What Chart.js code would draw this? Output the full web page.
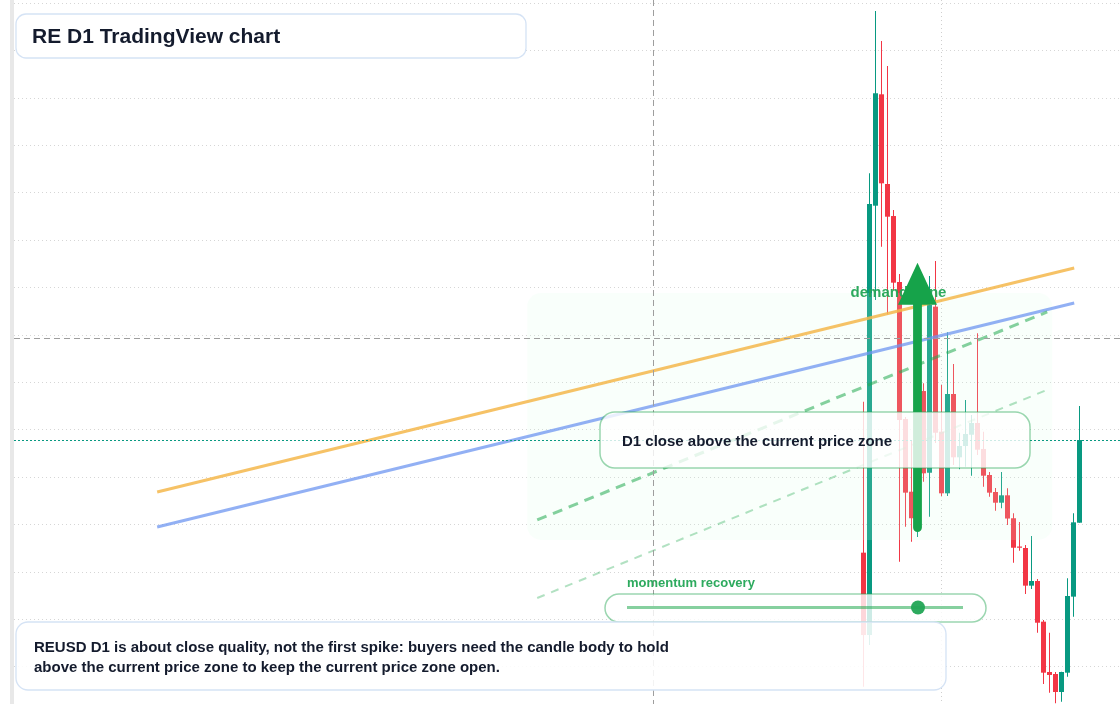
<!DOCTYPE html>
<html>
<head>
<meta charset="utf-8">
<script src="https://cdn.jsdelivr.net/npm/chart.js@4/dist/chart.umd.min.js"></script>
<style>
html,body{margin:0;padding:0;background:#fff;}
#wrap{position:relative;width:1120px;height:704px;}
</style>
</head>
<body>
<div id="wrap"><canvas id="c" width="1120" height="704"></canvas></div>
<script>
// ---- data (REUSD D1 candles) ----
const candleIndex = [0,1,2,3,4,5,6,7,8,9,10,11,12,13,14,15,16,17,18,19,20,21,22,23,24,25,26,27,28,29,30,31,32,33,34,35,36];
const opens  = [7.705,6.836,11.365,12.540,11.594,11.256,10.560,9.115,8.348,8.068,9.410,8.549,10.300,8.981,8.331,9.379,8.711,8.830,8.949,9.073,8.799,8.524,8.345,8.232,8.310,8.068,7.770,7.754,7.357,7.406,6.977,6.446,6.425,6.235,6.439,7.241,8.021];
const highs  = [9.297,11.707,13.419,13.102,12.839,11.320,10.645,9.136,8.893,9.526,9.492,10.623,10.782,9.474,10.030,9.695,8.970,9.315,9.157,10.019,8.981,8.556,8.387,8.556,8.384,8.120,8.028,7.786,7.881,7.427,6.995,6.861,6.446,6.449,7.435,8.120,9.252];
const lows   = [6.291,6.731,10.370,10.932,10.219,10.476,7.610,7.979,7.821,7.870,8.454,8.084,8.862,8.303,8.303,8.630,8.584,8.612,8.517,8.735,8.401,8.295,8.148,8.173,7.997,7.599,7.726,7.269,7.322,6.861,6.320,6.228,6.116,6.133,6.397,7.030,8.021];
const closes = [6.836,11.383,12.551,11.601,11.249,10.553,9.104,8.338,8.068,9.410,8.542,10.318,8.970,8.331,9.379,8.711,8.830,8.957,9.073,8.791,8.517,8.338,8.232,8.310,8.065,7.757,7.757,7.357,7.406,6.966,6.439,6.415,6.235,6.446,7.248,8.025,8.893];

// trend lines (x in bar index, y in price)
const trendX        = [-117.72, 35.12];
const upperTrend    = [8.345, 10.708];
const lowerTrend    = [7.976, 10.339];
const channelX      = [-54.38, 30.62];
const channelTop    = [8.050, 10.244];
const channelX2     = [-54.38, 30.95];
const channelBottom = [7.227, 9.431];

// zone / markers
const zoneX = [-56.05, 31.45];
const zoneY = [7.839, 10.444];
const arrowX = 9;
const arrowY = [7.923, 10.764];
const currentPrice = closes[closes.length - 1];
const crossX = -35.05;
const crossY = 9.969;

// axes
const xRange = [-141.5833, 42.75];
const yRange = [6.10865, 13.53481];
const yGrid = [6.5,7,7.5,8,8.5,9,9.5,10,10.5,11,11.5,12,12.5,13,13.5];
const xGrid = [13];

// texts
const titleText = "RE D1 TradingView chart";
const noteLines = ["REUSD D1 is about close quality, not the first spike: buyers need the candle body to hold",
                   "above the current price zone to keep the current price zone open."];
const calloutText = "D1 close above the current price zone";
const zoneLabel = "demand zone";
const momentumLabel = "momentum recovery";

// ---- styles ----
const UP = '#089981', DOWN = '#f23645';
const FONT = '"Liberation Sans", Arial, Helvetica, sans-serif';
const candleColors = candleIndex.map(i => closes[i] >= opens[i] ? UP : DOWN);

function rr(ctx, x, y, w, h, r) {
  ctx.beginPath();
  ctx.moveTo(x + r, y);
  ctx.lineTo(x + w - r, y);
  ctx.arcTo(x + w, y, x + w, y + r, r);
  ctx.lineTo(x + w, y + h - r);
  ctx.arcTo(x + w, y + h, x + w - r, y + h, r);
  ctx.lineTo(x + r, y + h);
  ctx.arcTo(x, y + h, x, y + h - r, r);
  ctx.lineTo(x, y + r);
  ctx.arcTo(x, y, x + r, y, r);
  ctx.closePath();
}

const overlay = {
  id: 'overlay',
  beforeDraw(chart) {
    const ctx = chart.ctx;
    ctx.save();
    ctx.fillStyle = '#ffffff';
    ctx.fillRect(0, 0, chart.width, chart.height);
    ctx.fillStyle = '#e8e8e8';
    ctx.fillRect(10, 0, 4, chart.height);
    ctx.restore();
  },
  afterDatasetDraw(chart, args) {
    if (args.index !== 1) return; // after candle bodies
    const ctx = chart.ctx, xs = chart.scales.x, ys = chart.scales.y;
    const x0 = xs.getPixelForValue(zoneX[0]), x1 = xs.getPixelForValue(zoneX[1]);
    const y0 = ys.getPixelForValue(zoneY[1]), y1 = ys.getPixelForValue(zoneY[0]);
    ctx.save();
    rr(ctx, x0, y0, x1 - x0, y1 - y0, 14);
    ctx.fillStyle = 'rgba(220,252,231,0.16)';
    ctx.fill();
    ctx.restore();
  },
  afterDatasetsDraw(chart) {
    const ctx = chart.ctx, xs = chart.scales.x, ys = chart.scales.y, a = chart.chartArea;
    ctx.save();
    // crosshair
    ctx.strokeStyle = '#9e9e9e'; ctx.lineWidth = 1; ctx.setLineDash([6, 4]);
    const cx = Math.round(xs.getPixelForValue(crossX)) + 0.5;
    ctx.beginPath(); ctx.moveTo(cx, a.top); ctx.lineTo(cx, a.bottom); ctx.stroke();
    const cy = Math.round(ys.getPixelForValue(crossY)) + 0.5;
    ctx.beginPath(); ctx.moveTo(a.left, cy); ctx.lineTo(a.right, cy); ctx.stroke();
    // current price line
    ctx.strokeStyle = UP; ctx.setLineDash([2, 2]);
    const py = Math.round(ys.getPixelForValue(currentPrice)) + 0.5;
    ctx.beginPath(); ctx.moveTo(a.left, py); ctx.lineTo(a.right, py); ctx.stroke();
    ctx.setLineDash([]);

    // zone label
    const ax = xs.getPixelForValue(arrowX);
    ctx.font = 'bold 15px ' + FONT;
    ctx.fillStyle = 'rgba(34,165,85,0.95)';
    ctx.textAlign = 'center'; ctx.textBaseline = 'middle';
    ctx.fillText(zoneLabel, ax - 19, ys.getPixelForValue(zoneY[1]));

    // arrow
    const aTop = ys.getPixelForValue(arrowY[1]), aBot = ys.getPixelForValue(arrowY[0]);
    const headH = 42, headW = 19.5, shaftW = 4.4;
    ctx.fillStyle = '#16a34a';
    ctx.beginPath();
    ctx.moveTo(ax, aTop);
    ctx.lineTo(ax + headW, aTop + headH);
    ctx.lineTo(ax + shaftW, aTop + headH);
    ctx.lineTo(ax + shaftW, aBot - shaftW);
    ctx.arc(ax, aBot - shaftW, shaftW, 0, Math.PI);
    ctx.lineTo(ax - shaftW, aTop + headH);
    ctx.lineTo(ax - headW, aTop + headH);
    ctx.closePath();
    ctx.fill();

    // callout box
    rr(ctx, 600, 412, 430, 56, 15);
    ctx.fillStyle = 'rgba(255,255,255,0.8)'; ctx.fill();
    ctx.strokeStyle = 'rgba(34,165,80,0.45)'; ctx.lineWidth = 1.5; ctx.stroke();
    ctx.font = 'bold 15px ' + FONT; ctx.fillStyle = '#141b2d';
    ctx.textAlign = 'left'; ctx.textBaseline = 'middle';
    ctx.fillText(calloutText, 622, 441.5);

    // momentum slider
    rr(ctx, 605, 594, 381, 28, 14);
    ctx.fillStyle = 'rgba(255,255,255,0.8)'; ctx.fill();
    ctx.strokeStyle = 'rgba(34,165,80,0.45)'; ctx.lineWidth = 1.5; ctx.stroke();
    ctx.strokeStyle = 'rgba(34,170,80,0.55)'; ctx.lineWidth = 3;
    ctx.beginPath(); ctx.moveTo(627, 607.5); ctx.lineTo(963, 607.5); ctx.stroke();
    ctx.fillStyle = 'rgba(34,165,85,0.95)';
    ctx.beginPath(); ctx.arc(ax + 0.5, 607.5, 7, 0, Math.PI * 2); ctx.fill();
    ctx.font = 'bold 13px ' + FONT;
    ctx.fillText(momentumLabel, 627, 583);

    // note box
    rr(ctx, 16, 622, 930, 68, 12);
    ctx.fillStyle = 'rgba(255,255,255,0.88)'; ctx.fill();
    ctx.strokeStyle = '#d5e3f5'; ctx.lineWidth = 1.3; ctx.stroke();
    ctx.font = 'bold 15px ' + FONT; ctx.fillStyle = '#141b2d';
    ctx.fillText(noteLines[0], 34, 648);
    ctx.fillText(noteLines[1], 34, 668);

    // title box
    rr(ctx, 16, 14, 510, 44, 10);
    ctx.fillStyle = '#ffffff'; ctx.fill();
    ctx.strokeStyle = '#d5e3f5'; ctx.lineWidth = 1.3; ctx.stroke();
    ctx.font = 'bold 21px ' + FONT; ctx.fillStyle = '#141b2d';
    ctx.fillText(titleText, 32, 37);
    ctx.restore();
  }
};

const lineDs = (xArr, yArr, color, width, dash, order) => ({
  type: 'line',
  data: xArr.map((x, i) => ({x: x, y: yArr[i]})),
  borderColor: color, borderWidth: width, borderDash: dash,
  pointRadius: 0, fill: false, tension: 0, order: order, borderCapStyle: 'butt'
});

new Chart(document.getElementById('c'), {
  type: 'bar',
  data: {
    datasets: [
      {
        label: 'wicks',
        data: candleIndex.map(i => ({x: i, y: [lows[i], highs[i]]})),
        backgroundColor: candleColors, barThickness: 1, borderWidth: 0,
        grouped: false, order: 5, borderSkipped: false, inflateAmount: 0
      },
      {
        label: 'bodies',
        data: candleIndex.map(i => ({x: i, y: [opens[i], closes[i]]})),
        backgroundColor: candleColors, barThickness: 5, borderWidth: 0,
        grouped: false, order: 4, borderSkipped: false, minBarLength: 1, inflateAmount: 0
      },
      lineDs(trendX, upperTrend, 'rgba(245,183,75,0.85)', 3, [], 2),
      lineDs(trendX, lowerTrend, 'rgba(110,150,240,0.75)', 3, [], 2),
      lineDs(channelX, channelTop, 'rgba(34,170,80,0.55)', 3, [10, 7], 1),
      lineDs(channelX2, channelBottom, 'rgba(34,170,80,0.35)', 2, [8, 7], 1)
    ]
  },
  options: {
    responsive: false,
    animation: false,
    devicePixelRatio: 1,
    layout: {padding: {left: 14, right: 0, top: 0, bottom: 0}},
    plugins: {legend: {display: false}, tooltip: {enabled: false}},
    scales: {
      x: {
        type: 'linear', min: xRange[0], max: xRange[1], offset: false,
        grid: {offset: false, color: '#cfcfcf', lineWidth: 1, drawTicks: false},
        border: {display: false, dash: [1, 3]},
        ticks: {display: false},
        afterBuildTicks: s => { s.ticks = xGrid.map(v => ({value: v})); },
        afterFit: s => { s.height = 0; }
      },
      y: {
        type: 'linear', min: yRange[0], max: yRange[1],
        grid: {color: '#d6d6d6', lineWidth: 1, drawTicks: false},
        border: {display: false, dash: [1, 3]},
        ticks: {display: false},
        afterBuildTicks: s => { s.ticks = yGrid.map(v => ({value: v})); },
        afterFit: s => { s.width = 0; }
      }
    }
  },
  plugins: [overlay]
});
</script>
</body>
</html>
